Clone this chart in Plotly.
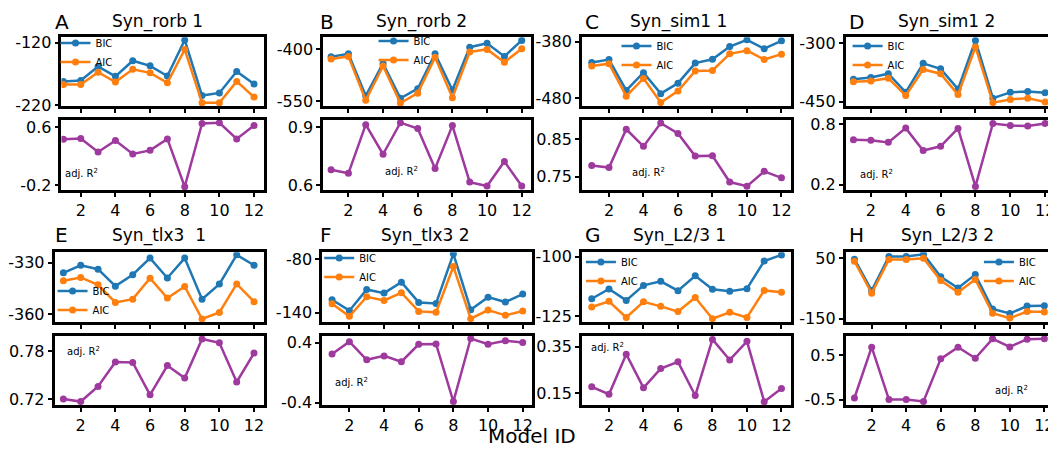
import plotly.graph_objects as go

model_ids = [1, 2, 3, 4, 5, 6, 7, 8, 9, 10, 11, 12]
x_tick_vals = [2, 4, 6, 8, 10, 12]

panel_letters = ["A", "B", "C", "D", "E", "F", "G", "H"]
panel_titles = ["Syn_rorb 1", "Syn_rorb 2", "Syn_sim1 1", "Syn_sim1 2",
                "Syn_tlx3\u00a0\u00a01", "Syn_tlx3 2", "Syn_L2/3 1", "Syn_L2/3 2"]

bic_A = [-181.7, -180.2, -157.8, -173.6, -148.6, -156.7, -173.1, -115.4, -204.2, -200.1, -165.9, -185.8]
aic_A = [-186.8, -186.8, -166.9, -182.8, -162.3, -168.0, -183.8, -130.7, -215.9, -215.9, -181.7, -206.7]
r2_A = [0.433, 0.442, 0.256, 0.415, 0.229, 0.279, 0.437, -0.223, 0.650, 0.659, 0.437, 0.623]

bic_B = [-421.2, -412.9, -533.4, -440.5, -540.8, -513.2, -412.9, -516.8, -393.6, -382.5, -420.2, -374.2]
aic_B = [-427.6, -420.2, -546.3, -447.8, -554.6, -526.0, -423.0, -538.9, -407.4, -400.0, -436.8, -398.2]
r2_B = [0.680, 0.662, 0.912, 0.760, 0.922, 0.892, 0.687, 0.907, 0.617, 0.597, 0.723, 0.597]

bic_C = [-416.7, -411.6, -466.4, -434.8, -472.1, -453.5, -417.9, -411.1, -388.5, -376.6, -392.4, -378.3]
aic_C = [-422.9, -419.0, -476.6, -445.0, -487.9, -467.6, -432.0, -430.9, -401.5, -395.8, -411.6, -402.0]
r2_C = [0.7796, 0.774, 0.877, 0.831, 0.8935, 0.8657, 0.8048, 0.8056, 0.7352, 0.7239, 0.7639, 0.7465]

bic_D = [-392.3, -388.2, -378.3, -426.1, -351.9, -365.9, -417.8, -293.4, -440.9, -426.1, -423.6, -426.9]
aic_D = [-398.9, -397.2, -389.8, -434.3, -367.6, -378.3, -431.8, -309.9, -452.4, -444.2, -440.9, -450.8]
r2_D = [0.648, 0.644, 0.622, 0.764, 0.541, 0.583, 0.761, 0.184, 0.810, 0.790, 0.784, 0.810]

bic_E = [-335.9, -331.5, -333.8, -343.7, -337.0, -327.3, -338.9, -327.3, -351.3, -342.5, -325.4, -331.5]
aic_E = [-340.6, -338.6, -342.9, -353.2, -351.3, -339.1, -350.7, -343.9, -362.9, -359.1, -342.4, -352.8]
r2_E = [0.7200, 0.7168, 0.7358, 0.7666, 0.7662, 0.7253, 0.7622, 0.7464, 0.7958, 0.7909, 0.7415, 0.7780]

bic_F = [-125.5, -137.7, -114.0, -118.1, -105.9, -128.5, -129.6, -74.4, -136.6, -122.6, -128.1, -119.2]
aic_F = [-130.0, -144.0, -122.2, -126.3, -117.7, -138.5, -139.6, -88.5, -146.6, -137.0, -142.9, -138.1]
r2_F = [0.250, 0.413, 0.172, 0.224, 0.146, 0.379, 0.383, -0.387, 0.456, 0.379, 0.426, 0.404]

bic_G = [-117.7, -113.6, -118.4, -112.1, -110.4, -114.3, -108.1, -113.7, -114.6, -113.5, -101.9, -99.3]
aic_G = [-121.2, -118.8, -125.6, -119.0, -120.9, -123.1, -117.2, -126.1, -123.4, -125.6, -114.2, -115.0]
r2_G = [0.1776, 0.1459, 0.3183, 0.1734, 0.2562, 0.2851, 0.1404, 0.3817, 0.2934, 0.3735, 0.1140, 0.1706]

bic_H = [46.8, -57.0, 55.4, 55.4, 63.0, -11.6, -48.4, -4.1, -117.6, -132.7, -107.8, -106.7]
aic_H = [40.3, -65.7, 45.7, 45.7, 50.0, -23.5, -62.4, -20.3, -131.6, -147.8, -126.2, -127.3]
r2_H = [-0.464, 0.683, -0.500, -0.500, -0.544, 0.420, 0.683, 0.434, 0.872, 0.690, 0.865, 0.872]

bic_all = [bic_A, bic_B, bic_C, bic_D, bic_E, bic_F, bic_G, bic_H]
aic_all = [aic_A, aic_B, aic_C, aic_D, aic_E, aic_F, aic_G, aic_H]
r2_all = [r2_A, r2_B, r2_C, r2_D, r2_E, r2_F, r2_G, r2_H]

ic_tick_labels = [(-120, -220), (-400, -550), (-380, -480), (-300, -450),
                  (-330, -360), (-80, -140), (-100, -125), (50, -150)]
r2_tick_labels = [(0.6, -0.2), (0.9, 0.6), (0.85, 0.75), (0.8, 0.2),
                  (0.78, 0.72), (0.4, -0.4), (0.35, 0.15), (0.5, -0.5)]

# ---------------- layout (pixels in the 1056x465 window) ----------------
OFF = 8                    # default page body margin
W, H = 1056 - OFF, 465 - 2 * OFF
box_x = [(52, 257), (317, 527), (579, 791), (846, 1056),
         (45, 257), (316, 528), (579, 791), (846, 1056)]
x_ranges = [(0.886, 12.57), (0.544, 12.51), (0.43, 12.57), (0.55, 12.45),
            (0.49, 12.57), (0.43, 12.51), (0.43, 12.57), (0.49, 12.5)]
row_top = [(33, 104), (255, 327)]
row_bot = [(118, 191), (341, 413)]
ic_ranges = [(-221, -111), (-563, -365), (-494, -372), (-461, -285),
             (-364.7, -323.9), (-150.4, -72.6), (-127.5, -98.2), (-160.8, 69.5)]
r2_ranges = [(-0.272, 0.704), (0.575, 0.938), (0.713, 0.903), (0.145, 0.849),
             (0.712, 0.800), (-0.438, 0.495), (0.098, 0.398), (-0.631, 0.945)]
legend_px = [(55, 42), (377, 40), (623, 45), (857, 45),
             (52, 298), (322, 264), (587, 268), (990, 268)]
r2_label_pos = [(0.10, 0.24), (0.38, 0.27), (0.32, 0.26), (0.15, 0.23),
                (0.14, 0.78), (0.14, 0.33), (0.12, 0.83), (0.80, 0.22)]
letter_px = [(43, 17), (312, 17), (580, 17), (847, 17),
             (43, 237), (312, 237), (580, 237), (847, 237)]
title_px = [(149, 17), (417, 17), (677, 17), (948, 17),
            (151, 238), (421, 238), (678, 238), (949, 238)]

BIC_C = "#1f77b4"
AIC_C = "#ff7f0e"
R2_C = "#9e3a9e"
FONT = "DejaVu Sans, Arial, sans-serif"


def px_x(p):
    return (p - OFF) / W


def px_y(p):
    return 1 - (p - OFF) / H


fig = go.Figure()
layout = dict(
    width=W, height=H,
    margin=dict(l=0, r=0, t=0, b=0),
    paper_bgcolor="white", plot_bgcolor="white",
    font=dict(family=FONT, size=15, color="black"),
    showlegend=True,
)
annotations = []

axis_common = dict(showline=True, linewidth=2.6, linecolor="black", mirror=True,
                   ticks="outside", ticklen=4, tickwidth=1.5, tickcolor="black",
                   showgrid=False, zeroline=False,
                   tickfont=dict(family=FONT, size=16, color="black"))

for p in range(8):
    row = p // 4
    ia = 2 * p + 1
    ib = 2 * p + 2
    xd = [max(0.0, px_x(box_x[p][0])), min(1.0, px_x(box_x[p][1]))]
    yd_top = [px_y(row_top[row][1]), px_y(row_top[row][0])]
    yd_bot = [px_y(row_bot[row][1]), px_y(row_bot[row][0])]
    leg_name = "legend" if p == 0 else f"legend{p + 1}"

    fig.add_trace(go.Scatter(x=model_ids, y=bic_all[p], mode="lines+markers", name="BIC",
                             line=dict(color=BIC_C, width=2.5), marker=dict(size=7, color=BIC_C),
                             xaxis=f"x{ia}", yaxis=f"y{ia}", legend=leg_name))
    fig.add_trace(go.Scatter(x=model_ids, y=aic_all[p], mode="lines+markers", name="AIC",
                             line=dict(color=AIC_C, width=2.5), marker=dict(size=7, color=AIC_C),
                             xaxis=f"x{ia}", yaxis=f"y{ia}", legend=leg_name))
    fig.add_trace(go.Scatter(x=model_ids, y=r2_all[p], mode="lines+markers", name="adj. R²",
                             line=dict(color=R2_C, width=2.5), marker=dict(size=7, color=R2_C),
                             xaxis=f"x{ib}", yaxis=f"y{ib}", showlegend=False))

    layout[f"xaxis{ia}"] = dict(axis_common, domain=xd, range=list(x_ranges[p]),
                                tickvals=x_tick_vals, showticklabels=False, anchor=f"y{ia}")
    layout[f"yaxis{ia}"] = dict(axis_common, domain=yd_top, range=list(ic_ranges[p]),
                                tickvals=list(ic_tick_labels[p]),
                                ticktext=[str(v) for v in ic_tick_labels[p]], anchor=f"x{ia}")
    layout[f"xaxis{ib}"] = dict(axis_common, domain=xd, range=list(x_ranges[p]),
                                tickvals=x_tick_vals, anchor=f"y{ib}")
    layout[f"yaxis{ib}"] = dict(axis_common, domain=yd_bot, range=list(r2_ranges[p]),
                                tickvals=list(r2_tick_labels[p]),
                                ticktext=[str(v) for v in r2_tick_labels[p]], anchor=f"x{ib}")

    lx, ly = legend_px[p]
    layout[leg_name] = dict(x=px_x(lx - 9), y=min(1.0, px_y(ly - 18)), xanchor="left", yanchor="top",
                            bgcolor="rgba(0,0,0,0)", borderwidth=0,
                            font=dict(family=FONT, size=10, color="black"),
                            itemwidth=30, tracegroupgap=0)

    fx, fy = r2_label_pos[p]
    annotations.append(dict(text="adj. R<sup>2</sup>", x=fx, y=fy,
                            xref=f"x{ib} domain", yref=f"y{ib} domain",
                            xanchor="center", yanchor="middle",
                            showarrow=False, font=dict(family=FONT, size=10, color="black")))
    lpx, lpy = letter_px[p]
    annotations.append(dict(text=panel_letters[p], x=px_x(lpx), y=px_y(lpy), xref="paper", yref="paper",
                            xanchor="left", yanchor="middle", showarrow=False,
                            font=dict(family=FONT, size=20, color="black")))
    tpx, tpy = title_px[p]
    annotations.append(dict(text=panel_titles[p], x=px_x(tpx), y=px_y(tpy), xref="paper", yref="paper",
                            xanchor="center", yanchor="middle", showarrow=False,
                            font=dict(family=FONT, size=17, color="black")))

annotations.append(dict(text="Model ID", x=px_x(528), y=px_y(445), xref="paper", yref="paper",
                        xanchor="center", yanchor="middle", showarrow=False,
                        font=dict(family=FONT, size=20, color="black")))
layout["annotations"] = annotations
fig.update_layout(**layout)
fig.write_html("out.html")
